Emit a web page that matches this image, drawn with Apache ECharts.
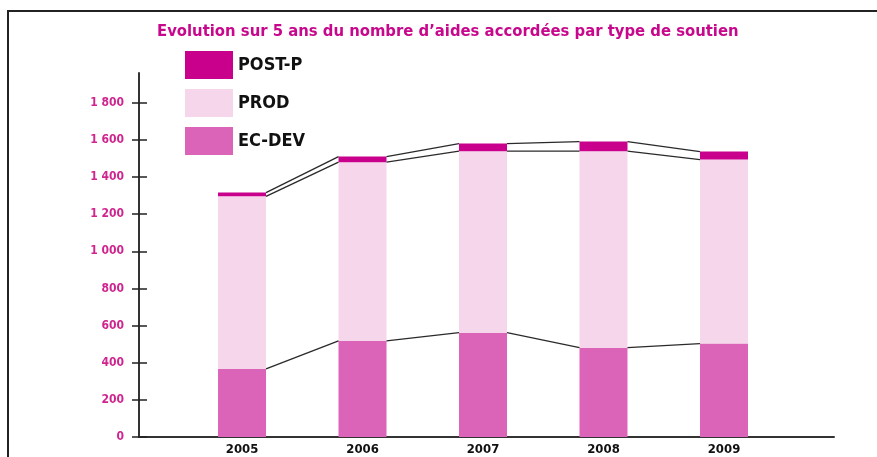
<!DOCTYPE html>
<html>
<head>
<meta charset="utf-8">
<script src="https://cdn.jsdelivr.net/npm/echarts@6/dist/echarts.min.js"></script>
<style>
  html, body { margin: 0; padding: 0; background: #fff; }
  #main { width: 877px; height: 457px; }
</style>
</head>
<body>
<div id="main"></div>
<script>
// data
const years = ['2005', '2006', '2007', '2008', '2009'];
const ecDev = [367, 518, 562, 481, 503];
const prod = [929, 962, 977, 1058, 991];
const postP = [20, 30, 41, 52, 43];
const yTicks = [0, 200, 400, 600, 800, 1000, 1200, 1400, 1600, 1800];
const yTickLabels = ['0', '200', '400', '600', '800', '1 000', '1 200', '1 400', '1 600', '1 800'];

const FONT = '"DejaVu Sans Condensed", "Liberation Sans Narrow", "DejaVu Sans", sans-serif';
const BAR_W = 48;
const xIdx = years.map((y, i) => i);

// cumulative tops for the series lines
const lvl1 = ecDev.slice();
const lvl2 = ecDev.map((v, i) => v + prod[i]);
const lvl3 = lvl2.map((v, i) => v + postP[i]);

function segs(level) {
  const out = [];
  for (let i = 0; i < level.length - 1; i++) out.push([i, level[i], level[i + 1]]);
  return out;
}

function seriesLine(level) {
  return {
    type: 'custom',
    silent: true,
    z: 5,
    data: segs(level),
    renderItem: function (params, api) {
      const i = api.value(0);
      const a = api.coord([i, api.value(1)]);
      const b = api.coord([i + 1, api.value(2)]);
      return {
        type: 'line',
        shape: { x1: a[0] + BAR_W / 2, y1: a[1], x2: b[0] - BAR_W / 2, y2: b[1] },
        style: { stroke: '#2a2a2a', lineWidth: 1.3 }
      };
    }
  };
}

// value first so the stack goes on y (x is a value axis here)
function barSeries(name, vals, color) {
  return {
    name: name, type: 'bar', stack: 'total', barWidth: BAR_W,
    encode: { x: 1, y: 0 },
    itemStyle: { color: color },
    data: vals.map((v, i) => [v, i])
  };
}

const chart = echarts.init(document.getElementById('main'));
chart.setOption({
  animation: false,
  title: {
    text: 'Evolution sur 5 ans du nombre d\u2019aides accordées par type de soutien',
    left: 152,
    top: 18,
    textStyle: { fontFamily: FONT, fontSize: 16.5, fontWeight: 'bold', color: '#c8088c' }
  },
  legend: {
    orient: 'vertical',
    left: 185,
    top: 51,
    padding: 0,
    itemWidth: 48,
    itemHeight: 28,
    itemGap: 10,
    icon: 'rect',
    selectedMode: false,
    data: ['POST-P', 'PROD', 'EC-DEV'],
    textStyle: { fontFamily: FONT, fontSize: 18, fontWeight: 'bold', color: '#111' }
  },
  graphic: [{
    type: 'polyline',
    shape: { points: [[8, 457], [8, 11], [877, 11]] },
    style: { stroke: '#222', lineWidth: 2, fill: null }
  }],
  grid: { left: 139, right: 43, top: 73, bottom: 20 },
  xAxis: {
    type: 'value',
    min: -0.855,
    max: 4.913,
    splitLine: { show: false },
    axisTick: { show: false },
    axisLine: { show: true, onZero: false, lineStyle: { color: '#333', width: 2 } },
    axisLabel: {
      customValues: xIdx,
      margin: 6,
      formatter: v => years[Math.round(v)],
      fontFamily: FONT, fontSize: 13, fontWeight: 'bold', color: '#111'
    }
  },
  yAxis: [{
    type: 'value',
    min: 0,
    max: 1960,
    splitLine: { show: false },
    axisLine: { show: true, onZero: false, lineStyle: { color: '#333', width: 2 } },
    axisTick: { show: true, length: 7, customValues: yTicks, lineStyle: { color: '#222', width: 1.5 } },
    axisLabel: {
      customValues: yTicks,
      margin: 15,
      formatter: v => yTickLabels[yTicks.indexOf(v)],
      fontFamily: FONT, fontSize: 12, fontWeight: 'bold', color: '#d0248f'
    }
  }, {
    type: 'value',
    position: 'left',
    min: 0,
    max: 1960,
    splitLine: { show: false },
    axisLine: { show: false, onZero: false },
    axisLabel: { show: false },
    axisTick: { show: true, inside: true, length: 8, customValues: yTicks, lineStyle: { color: '#222', width: 1.5 } }
  }],
  series: [
    barSeries('EC-DEV', ecDev, '#dc64b8'),
    barSeries('PROD', prod, '#f6d6eb'),
    barSeries('POST-P', postP, '#c8008c'),
    seriesLine(lvl1),
    seriesLine(lvl2),
    seriesLine(lvl3)
  ]
});
</script>
</body>
</html>
